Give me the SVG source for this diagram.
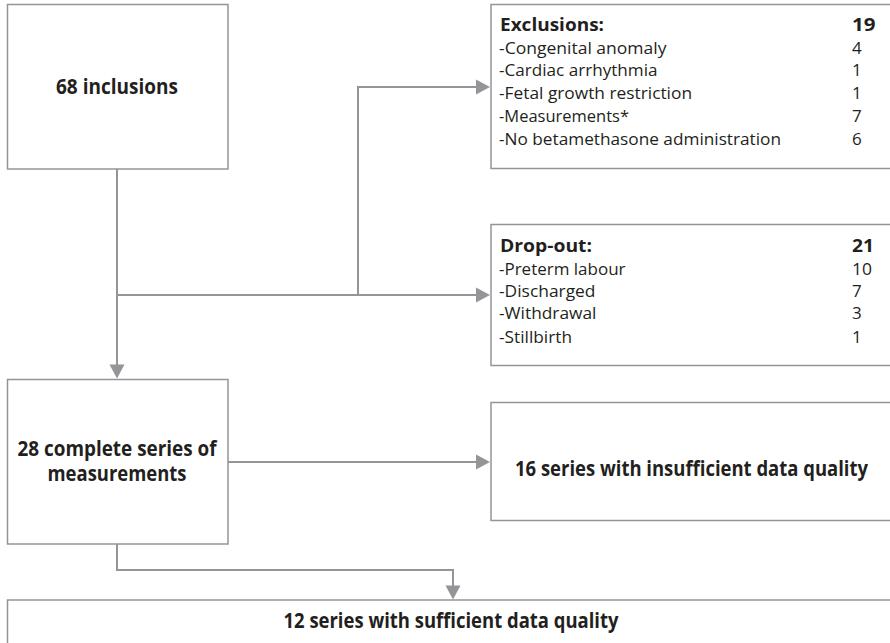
<svg xmlns="http://www.w3.org/2000/svg" width="890" height="643" viewBox="0 0 890 643">
  <style>
    .box { fill: #ffffff; stroke: #939598; stroke-width: 1.5; }
    .conn { fill: none; stroke: #939598; stroke-width: 2; }
    .head { fill: #939598; }
    text { font-family: "Open Sans", "Liberation Sans", sans-serif; fill: #231f20; }
    .big { font-size: 20.5px; font-weight: bold; text-anchor: middle; }
    .hd { font-size: 18px; font-weight: bold; }
    .it { font-size: 17px; }
  </style>
  <defs>
    <marker id="arrow" markerUnits="userSpaceOnUse" markerWidth="14" markerHeight="15" refX="4" refY="7.5" orient="auto" overflow="visible">
      <path class="head" d="M0,0 L14,7.5 L0,15 Z"/>
    </marker>
  </defs>

  <rect x="0" y="0" width="890" height="643" fill="#ffffff"/>

  <!-- connectors -->
  <g id="connectors">
    <path class="conn" d="M117,169 V368.5" marker-end="url(#arrow)"/>
    <path class="conn" d="M117,295 H480" marker-end="url(#arrow)"/>
    <path class="conn" d="M358,295 V87 H480" marker-end="url(#arrow)"/>
    <path class="conn" d="M228,462 H480" marker-end="url(#arrow)"/>
    <path class="conn" d="M117,544 V570 H453 V589.5" marker-end="url(#arrow)"/>
  </g>

  <g id="inclusions">
    <rect class="box" x="7.5" y="4.5" width="220.5" height="164.5"/>
    <text class="big" x="117" y="94" textLength="122" lengthAdjust="spacingAndGlyphs">68 inclusions</text>
  </g>

  <g id="exclusions">
    <rect class="box" x="491" y="4.5" width="410" height="164"/>
    <text class="hd" x="500" y="31" textLength="104" lengthAdjust="spacingAndGlyphs">Exclusions:</text>
    <text class="hd" x="852" y="31" textLength="23.5" lengthAdjust="spacingAndGlyphs">19</text>
    <text class="it" x="499" y="53.5" textLength="167.5" lengthAdjust="spacingAndGlyphs">-Congenital anomaly</text>
    <text class="it" x="852" y="53.5">4</text>
    <text class="it" x="499" y="76" textLength="158.5" lengthAdjust="spacingAndGlyphs">-Cardiac arrhythmia</text>
    <text class="it" x="852" y="76">1</text>
    <text class="it" x="499" y="98.5" textLength="193" lengthAdjust="spacingAndGlyphs">-Fetal growth restriction</text>
    <text class="it" x="852" y="98.5">1</text>
    <text class="it" x="499" y="121.5" textLength="130" lengthAdjust="spacingAndGlyphs">-Measurements*</text>
    <text class="it" x="852" y="121.5">7</text>
    <text class="it" x="499" y="145" textLength="282" lengthAdjust="spacingAndGlyphs">-No betamethasone administration</text>
    <text class="it" x="852" y="145">6</text>
  </g>

  <g id="dropout">
    <rect class="box" x="491" y="224.5" width="410" height="141"/>
    <text class="hd" x="500" y="252" textLength="92" lengthAdjust="spacingAndGlyphs">Drop-out:</text>
    <text class="hd" x="852" y="252" textLength="22" lengthAdjust="spacingAndGlyphs">21</text>
    <text class="it" x="499" y="274.5" textLength="126.5" lengthAdjust="spacingAndGlyphs">-Preterm labour</text>
    <text class="it" x="852" y="274.5" textLength="20" lengthAdjust="spacingAndGlyphs">10</text>
    <text class="it" x="499" y="296.5" textLength="96.5" lengthAdjust="spacingAndGlyphs">-Discharged</text>
    <text class="it" x="852" y="296.5">7</text>
    <text class="it" x="499" y="319" textLength="97.5" lengthAdjust="spacingAndGlyphs">-Withdrawal</text>
    <text class="it" x="852" y="319">3</text>
    <text class="it" x="499" y="343" textLength="73" lengthAdjust="spacingAndGlyphs">-Stillbirth</text>
    <text class="it" x="852" y="343">1</text>
  </g>

  <g id="complete">
    <rect class="box" x="7.5" y="379.5" width="220.5" height="164.5"/>
    <text class="big" x="117" y="456" textLength="199" lengthAdjust="spacingAndGlyphs">28 complete series of</text>
    <text class="big" x="117" y="481" textLength="139" lengthAdjust="spacingAndGlyphs">measurements</text>
  </g>

  <g id="insufficient">
    <rect class="box" x="491" y="402.5" width="410" height="118"/>
    <text class="big" x="691.5" y="476" textLength="353" lengthAdjust="spacingAndGlyphs">16 series with insufficient data quality</text>
  </g>

  <g id="sufficient">
    <rect class="box" x="7.5" y="600" width="900" height="60"/>
    <text class="big" x="451" y="627.5" textLength="335" lengthAdjust="spacingAndGlyphs">12 series with sufficient data quality</text>
  </g>
</svg>
